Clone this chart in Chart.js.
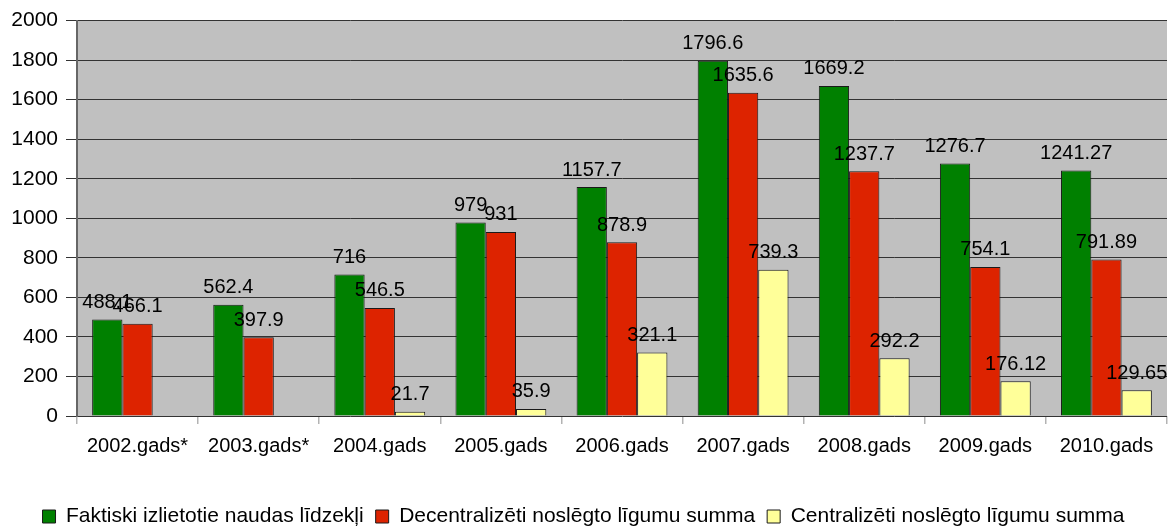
<!DOCTYPE html>
<html>
<head>
<meta charset="utf-8">
<script src="https://cdn.jsdelivr.net/npm/chart.js@4"></script>
<style>
  html, body { margin: 0; padding: 0; background: #fff; }
  #wrap { width: 1169px; height: 528px; position: relative; }
</style>
</head>
<body>
<div id="wrap"><canvas id="chart"></canvas></div>
<script>
const years = ['2002.gads*', '2003.gads*', '2004.gads', '2005.gads', '2006.gads', '2007.gads', '2008.gads', '2009.gads', '2010.gads'];
const faktiski = [488.1, 562.4, 716, 979, 1157.7, 1796.6, 1669.2, 1276.7, 1241.27];
const decentral = [466.1, 397.9, 546.5, 931, 878.9, 1635.6, 1237.7, 754.1, 791.89];
const central = [null, null, 21.7, 35.9, 321.1, 739.3, 292.2, 176.12, 129.65];
const seriesNames = ['Faktiski izlietotie naudas līdzekļi', 'Decentralizēti noslēgto līgumu summa', 'Centralizēti noslēgto līgumu summa'];

const FONT = "'Liberation Sans', Arial, sans-serif";

// grey plot background
const plotBg = {
  id: 'plotBg',
  beforeDraw(chart) {
    const { ctx, chartArea: a } = chart;
    ctx.save();
    ctx.fillStyle = '#c0c0c0';
    ctx.fillRect(a.left, a.top, a.right - a.left, a.bottom - a.top);
    ctx.restore();
  }
};

// value labels above the bars
const valueLabels = {
  id: 'valueLabels',
  afterDatasetsDraw(chart) {
    const ctx = chart.ctx;
    ctx.save();
    ctx.font = '20px ' + FONT;
    ctx.fillStyle = '#000';
    ctx.textAlign = 'center';
    ctx.textBaseline = 'alphabetic';
    chart.data.datasets.forEach((ds, i) => {
      chart.getDatasetMeta(i).data.forEach((bar, j) => {
        const v = ds.data[j];
        if (v === null || v === undefined) return;
        ctx.fillText(String(v), bar.x, bar.y - 11.5);
      });
    });
    ctx.restore();
  }
};

new Chart(document.getElementById('chart'), {
  type: 'bar',
  data: {
    labels: years,
    datasets: [
      { label: seriesNames[0], data: faktiski, backgroundColor: '#008000', borderColor: '#1a1a1a', borderWidth: 1 },
      { label: seriesNames[1], data: decentral, backgroundColor: '#dd2300', borderColor: '#1a1a1a', borderWidth: 1 },
      { label: seriesNames[2], data: central, backgroundColor: '#ffff99', borderColor: '#1a1a1a', borderWidth: 1 }
    ]
  },
  options: {
    responsive: true,
    maintainAspectRatio: false,
    animation: false,
    datasets: { bar: { categoryPercentage: 0.75, barPercentage: 1 } },
    layout: { padding: { top: 19, right: 2, bottom: 1, left: 0 } },
    scales: {
      x: {
        grid: { offset: true, drawOnChartArea: false, drawTicks: true, tickLength: 8, color: '#b3b3b3', lineWidth: 1.5 },
        border: { display: false },
        ticks: { color: '#000', font: { family: FONT, size: 20 }, padding: 10, maxRotation: 0, autoSkip: false },
        afterFit(scale) { scale.height = 78; }
      },
      y: {
        min: 0,
        max: 2000,
        ticks: { stepSize: 200, color: '#000', font: { family: FONT, size: 21 }, padding: 8, callback: v => String(v) },
        grid: { color: '#333', lineWidth: 1, tickLength: 11 },
        border: { display: true, color: '#666', width: 2 },
        afterFit(scale) { scale.width = 77; }
      }
    },
    plugins: {
      legend: {
        position: 'bottom',
        maxHeight: 33,
        labels: {
          color: '#000',
          font: { family: FONT, size: 21 },
          boxWidth: 13,
          boxHeight: 13,
          padding: 12
        }
      },
      tooltip: { enabled: false }
    }
  },
  plugins: [plotBg, valueLabels]
});
</script>
</body>
</html>
